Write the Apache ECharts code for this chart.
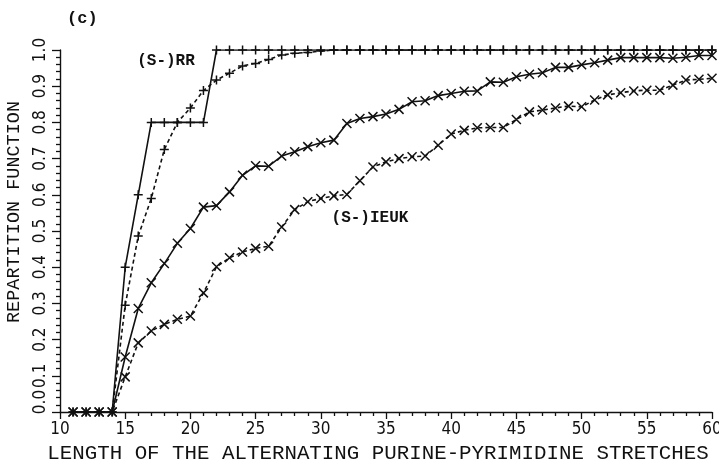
<!DOCTYPE html>
<html>
<head>
<meta charset="utf-8">
<script src="https://cdn.jsdelivr.net/npm/echarts@6/dist/echarts.min.js"></script>
<style>
  html, body { margin: 0; padding: 0; background: #fff; }
  #chart { width: 719px; height: 468px; }
</style>
</head>
<body>
<div id="chart"></div>
<script>
// Stretch lengths (x) and cumulative repartition values for each set
const lengths = [];
for (let n = 11; n <= 60; n++) lengths.push(n);

// (S-)RR, solid line
const rrSolid = [
  0, 0, 0, 0, 0.40, 0.60, 0.80, 0.80, 0.80, 0.80,
  0.80, 1.0, 1.0, 1.0, 1.0, 1.0, 1.0, 1.0, 1.0, 1.0,
  1.0, 1.0, 1.0, 1.0, 1.0, 1.0, 1.0, 1.0, 1.0, 1.0,
  1.0, 1.0, 1.0, 1.0, 1.0, 1.0, 1.0, 1.0, 1.0, 1.0,
  1.0, 1.0, 1.0, 1.0, 1.0, 1.0, 1.0, 1.0, 1.0, 1.0
];

// (S-)RR, dashed line
const rrDashed = [
  0, 0, 0, 0, 0.295, 0.486, 0.59, 0.725, 0.80, 0.84,
  0.888, 0.917, 0.936, 0.956, 0.963, 0.974, 0.986, 0.991, 0.993, 0.997,
  1.0, 1.0, 1.0, 1.0, 1.0, 1.0, 1.0, 1.0, 1.0, 1.0,
  1.0, 1.0, 1.0, 1.0, 1.0, 1.0, 1.0, 1.0, 1.0, 1.0,
  1.0, 1.0, 1.0, 1.0, 1.0, 1.0, 1.0, 1.0, 1.0, 1.0
];

// (S-)IEUK, solid line
const ieukSolid = [
  0, 0, 0, 0, 0.152, 0.286, 0.357, 0.410, 0.466, 0.507,
  0.566, 0.570, 0.608, 0.654, 0.680, 0.679, 0.707, 0.719, 0.733, 0.744,
  0.751, 0.797, 0.811, 0.816, 0.823, 0.836, 0.857, 0.860, 0.874, 0.880,
  0.886, 0.887, 0.912, 0.911, 0.926, 0.933, 0.937, 0.952, 0.952, 0.959,
  0.965, 0.972, 0.979, 0.979, 0.979, 0.979, 0.977, 0.980, 0.985, 0.985
];

// (S-)IEUK, dashed line
const ieukDashed = [
  0, 0, 0, 0, 0.097, 0.191, 0.224, 0.242, 0.256, 0.265,
  0.329, 0.401, 0.426, 0.442, 0.452, 0.458, 0.511, 0.559, 0.581, 0.590,
  0.597, 0.601, 0.639, 0.677, 0.691, 0.700, 0.705, 0.707, 0.737, 0.768,
  0.778, 0.785, 0.786, 0.786, 0.808, 0.829, 0.834, 0.840, 0.845, 0.843,
  0.862, 0.876, 0.882, 0.887, 0.889, 0.889, 0.903, 0.917, 0.919, 0.922
];

const MONO = '"Liberation Mono", "DejaVu Sans Mono", monospace';
const NARROW = '"Liberation Sans Narrow", "DejaVu Sans Condensed", "Liberation Mono", monospace';
const INK = '#111';
const PLUS = 'path://M0,-1L0,1M-1,0L1,0';
const CROSS = 'path://M-1,-1L1,1M-1,1L1,-1';

const pairs = ys => lengths.map((x, i) => [x, ys[i]]);

function curve(name, ys, symbol, dashed, extra) {
  return Object.assign({
    name: name,
    type: 'line',
    data: pairs(ys),
    symbol: symbol,
    symbolSize: 9,
    showSymbol: true,
    showAllSymbol: true,
    lineStyle: { color: INK, width: 1.6, type: dashed ? [4, 3] : 'solid' },
    itemStyle: { color: INK, borderColor: INK, borderWidth: 1.5 },
    emphasis: { disabled: true },
    animation: false
  }, extra || {});
}

const tagLabel = {
  show: true, position: 'inside', color: INK,
  fontFamily: MONO, fontSize: 16, fontWeight: 'bold'
};

const chart = echarts.init(document.getElementById('chart'), null, { renderer: 'canvas' });
chart.setOption({
  backgroundColor: '#fff',
  animation: false,
  title: {
    text: '(c)',
    left: 62,
    top: 5,
    textStyle: { color: INK, fontFamily: MONO, fontSize: 17, fontWeight: 'bold' }
  },
  grid: { left: 60, right: 7, top: 50, bottom: 56, outerBoundsMode: 'none' },
  xAxis: {
    type: 'value',
    min: 10,
    max: 60,
    interval: 5,
    name: 'LENGTH OF THE ALTERNATING PURINE-PYRIMIDINE STRETCHES',
    nameLocation: 'middle',
    nameGap: 19,
    nameTextStyle: { color: INK, fontFamily: MONO, fontSize: 20.8, padding: [0, 16, 0, 0] },
    axisLine: { show: true, onZero: false, lineStyle: { color: INK, width: 1.4 } },
    axisTick: { show: true, length: 7, lineStyle: { color: INK, width: 1.3 } },
    minorTick: { show: true, splitNumber: 5, length: 4, lineStyle: { color: INK, width: 1.3 } },
    splitLine: { show: false },
    axisLabel: { color: INK, fontFamily: NARROW, fontSize: 17, margin: 9 }
  },
  yAxis: {
    type: 'value',
    min: 0,
    max: 1,
    interval: 0.1,
    name: 'REPARTITION FUNCTION',
    nameLocation: 'middle',
    nameRotate: 90,
    nameGap: 31,
    nameTextStyle: { color: INK, fontFamily: MONO, fontSize: 18.5, padding: [0, 0, 0, 38] },
    axisLine: { show: true, onZero: false, lineStyle: { color: INK, width: 1.4 } },
    axisTick: { show: true, length: 8, lineStyle: { color: INK, width: 1.3 } },
    minorTick: { show: true, splitNumber: 5, length: 4, lineStyle: { color: INK, width: 1.3 } },
    splitLine: { show: false },
    axisLabel: {
      color: INK,
      fontFamily: NARROW,
      fontSize: 17,
      rotate: 90,
      margin: 11,
      formatter: v => (v === 0 ? '{z|0.0}' : v.toFixed(1)),
      rich: { z: { fontFamily: NARROW, fontSize: 17, color: INK, padding: [0, 0, 0, 20] } }
    }
  },
  series: [
    curve('(S-)RR', rrSolid, PLUS, false, {
      z: 4,
      markPoint: {
        symbol: 'circle',
        symbolSize: 0,
        itemStyle: { color: 'transparent' },
        label: tagLabel,
        data: [{ coord: [18.13, 0.97], value: '(S-)RR', label: { formatter: '(S-)RR' } }]
      }
    }),
    curve('(S-)RR dashed', rrDashed, PLUS, true, { z: 3 }),
    curve('(S-)IEUK', ieukSolid, CROSS, false, {
      z: 2,
      markPoint: {
        symbol: 'circle',
        symbolSize: 0,
        itemStyle: { color: 'transparent' },
        label: tagLabel,
        data: [{ coord: [33.77, 0.535], value: '(S-)IEUK', label: { formatter: '(S-)IEUK' } }]
      }
    }),
    curve('(S-)IEUK dashed', ieukDashed, CROSS, true, { z: 2 })
  ]
});
</script>
</body>
</html>
